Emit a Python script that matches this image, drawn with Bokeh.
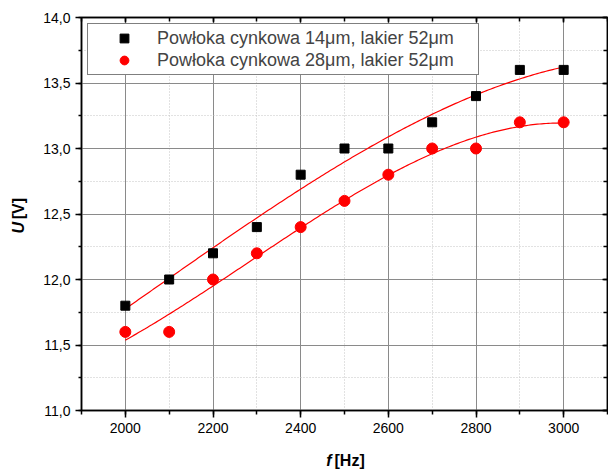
import numpy as np
from bokeh.plotting import figure
from bokeh.layouts import column, row
from bokeh.models import (Range1d, SingleIntervalTicker, LinearAxis,
                          CustomJSTickFormatter, Legend, LegendItem)
from bokeh.core.properties import value
from bokeh.embed import file_html
from bokeh.resources import INLINE

# Measured voltage vs. frequency for two zinc coating thicknesses
freq = [2000, 2100, 2200, 2300, 2400, 2500, 2600, 2700, 2800, 2900, 3000]
u_zinc14 = [11.8, 12.0, 12.2, 12.4, 12.8, 13.0, 13.0, 13.2, 13.4, 13.6, 13.6]
u_zinc28 = [11.6, 11.6, 12.0, 12.2, 12.4, 12.6, 12.8, 13.0, 13.0, 13.2, 13.2]
label_zinc14 = "Powłoka cynkowa 14μm, lakier 52μm"
label_zinc28 = "Powłoka cynkowa 28μm, lakier 52μm"
x_label_var, x_label_unit = "f", "[Hz]"
y_label_var, y_label_unit = "U", "[V]"

FONT = "Liberation Sans"
W, H = 608, 469
TITLE_W = 40          # strip holding the vertical axis title
TITLE_H = 25          # strip holding the horizontal axis title
MAIN_W, MAIN_H = W - TITLE_W, H - TITLE_H

p = figure(width=MAIN_W, height=MAIN_H, output_backend="svg", toolbar_location=None,
           x_range=Range1d(1900, 3100), y_range=Range1d(11.0, 14.0),
           min_border_left=80 - TITLE_W, min_border_right=1, min_border_top=17,
           min_border_bottom=MAIN_H - 410, background_fill_color="white",
           border_fill_color="white")
p.outline_line_color = "black"
p.outline_line_width = 1.5

xt = SingleIntervalTicker(interval=200, num_minor_ticks=2)
yt = SingleIntervalTicker(interval=0.5, num_minor_ticks=2)
comma_fmt = CustomJSTickFormatter(code="return tick.toFixed(1).replace('.', ',');")
blank_fmt = CustomJSTickFormatter(code="return '';")

# grid: solid major lines, dotted minor lines
for g, t in ((p.xgrid, xt), (p.ygrid, yt)):
    g.ticker = t
    g.grid_line_color = "#8a8a8a"
    g.grid_line_width = 1
    g.minor_grid_line_color = "#c4c4c4"
    g.minor_grid_line_dash = "1 2"
    g.minor_grid_line_width = 1

xa = p.xaxis[0]
xa.ticker = xt
ya = p.yaxis[0]
ya.ticker = yt
ya.formatter = comma_fmt
for ax, tout, mout in ((xa, 7, 4), (ya, 6, 3)):
    ax.axis_line_color = "black"
    ax.axis_line_width = 1.5
    ax.major_tick_line_color = "black"
    ax.minor_tick_line_color = "black"
    ax.major_tick_line_width = 1.5
    ax.minor_tick_line_width = 1.5
    ax.major_tick_in = 0
    ax.major_tick_out = tout
    ax.minor_tick_in = 0
    ax.minor_tick_out = mout
    ax.major_label_text_font = FONT
    ax.major_label_text_font_size = "14px"
    ax.major_label_text_color = "black"
    ax.major_label_standoff = 5

# mirrored axes on top and right with inward ticks, no labels
mirror = dict(formatter=blank_fmt, major_tick_out=0, minor_tick_out=0,
              axis_line_width=1.5, major_tick_line_width=1.5,
              minor_tick_line_width=1.5, major_label_standoff=0)
top = LinearAxis(ticker=xt, major_tick_in=5, minor_tick_in=4, **mirror)
right = LinearAxis(ticker=yt, major_tick_in=5, minor_tick_in=4, **mirror)
p.add_layout(top, "above")
p.add_layout(right, "right")

# polynomial fits of each series
xs_fit = np.linspace(freq[0], freq[-1], 200)
fit14 = np.polyval(np.polyfit(freq, u_zinc14, 3), xs_fit)
fit28 = np.polyval(np.polyfit(freq, u_zinc28, 3), xs_fit)
p.line(xs_fit, fit14, line_color="#ff0000", line_width=1.2)
p.line(xs_fit, fit28, line_color="#ff0000", line_width=1.2)

r14 = p.scatter(freq, u_zinc14, marker="square", size=9, fill_color="black",
                line_color="black")
r28 = p.scatter(freq, u_zinc28, marker="circle", size=11, fill_color="#ff0000",
                line_color="#ff0000")

legend = Legend(items=[LegendItem(label=label_zinc14, renderers=[r14]),
                       LegendItem(label=label_zinc28, renderers=[r28])],
                location="top_left", margin=6, padding=3, spacing=0,
                glyph_width=66, glyph_height=22, label_height=22,
                label_width=318, label_standoff=0, label_text_font=FONT,
                label_text_font_size="18px", border_line_color="black",
                border_line_width=1.2, background_fill_color="white",
                background_fill_alpha=1.0)
p.add_layout(legend)


def title_strip(width, height):
    # bare canvas whose data coordinates equal its pixel coordinates
    f = figure(width=width, height=height, output_backend="svg",
               toolbar_location=None, x_range=Range1d(0, width),
               y_range=Range1d(height, 0), min_border=0,
               x_axis_location=None, y_axis_location=None,
               background_fill_color="white", border_fill_color="white")
    f.grid.visible = False
    f.outline_line_color = None
    return f


title_style = dict(text_font=value(FONT), text_font_size="16px",
                   text_color="black", text_baseline="middle")

# vertical axis title: italic bold "U" followed by bold "[V]"
ytitle = title_strip(TITLE_W, MAIN_H)
ytitle.text(x=[18], y=[231], text=[y_label_var], angle=np.pi / 2,
            text_align="right", text_font_style="bold italic", **title_style)
ytitle.text(x=[18], y=[228], text=[y_label_unit], angle=np.pi / 2,
            text_align="left", text_font_style="bold", **title_style)

# horizontal axis title: italic bold "f" followed by bold "[Hz]"
xtitle = title_strip(W, TITLE_H)
xtitle.text(x=[331], y=[16], text=[x_label_var], text_align="right",
            text_font_style="bold italic", **title_style)
xtitle.text(x=[334], y=[16], text=[x_label_unit], text_align="left",
            text_font_style="bold", **title_style)

layout = column(row(ytitle, p, spacing=0), xtitle, spacing=0)
open("out.html", "w").write(file_html(layout, INLINE))
